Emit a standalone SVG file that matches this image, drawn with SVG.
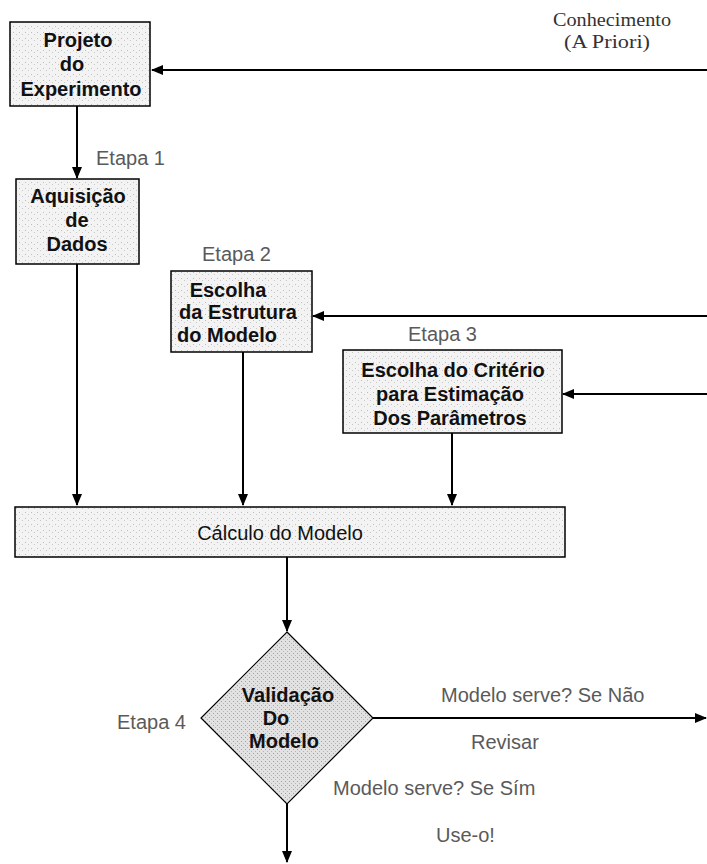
<svg xmlns="http://www.w3.org/2000/svg" width="707" height="864" viewBox="0 0 707 864">
<defs>
<marker id="ah" markerWidth="12" markerHeight="10" refX="11" refY="5" orient="auto" markerUnits="userSpaceOnUse">
<path d="M0,0 L12,5 L0,10 Z" fill="#000"/>
</marker>
<pattern id="stip" width="6" height="6" patternUnits="userSpaceOnUse">
<rect width="6" height="6" fill="#f3f3f3"/>
<rect x="1" y="2" width="1" height="1" fill="#bdbdbd"/>
<rect x="4" y="4" width="1" height="1" fill="#c8c8c8"/>
</pattern>
<pattern id="stip2" width="4" height="4" patternUnits="userSpaceOnUse">
<rect width="4" height="4" fill="#e2e2e2"/>
<rect x="1" y="1" width="1" height="1" fill="#a0a0a0"/>
<rect x="3" y="3" width="1" height="1" fill="#b4b4b4"/>
</pattern>
</defs>
<style>
.box{fill:url(#stip);stroke:#000;stroke-width:1.5}
.dia{fill:url(#stip2);stroke:#000;stroke-width:1.2}
.bt{font-family:"Liberation Sans",Arial,sans-serif;font-size:20px;font-weight:bold;fill:#111;text-anchor:middle}
.ct{font-family:"Liberation Sans",Arial,sans-serif;font-size:20px;fill:#111;text-anchor:middle}
.lb{font-family:"Liberation Sans",Arial,sans-serif;font-size:20px;fill:#5a5a5a}
.sf{font-family:"Liberation Serif","Times New Roman",serif;font-size:18px;fill:#333;text-anchor:middle}
.cn{stroke:#000;stroke-width:2;fill:none}
</style>

<g id="connectors">
<line class="cn" x1="707" y1="70" x2="152" y2="70" marker-end="url(#ah)"/>
<line class="cn" x1="77" y1="106" x2="77" y2="178" marker-end="url(#ah)"/>
<line class="cn" x1="77" y1="264" x2="77" y2="505" marker-end="url(#ah)"/>
<line class="cn" x1="707" y1="316" x2="313" y2="316" marker-end="url(#ah)"/>
<line class="cn" x1="243" y1="352" x2="243" y2="505" marker-end="url(#ah)"/>
<line class="cn" x1="707" y1="394" x2="563" y2="394" marker-end="url(#ah)"/>
<line class="cn" x1="452" y1="433" x2="452" y2="505" marker-end="url(#ah)"/>
<line class="cn" x1="287" y1="557" x2="287" y2="631" marker-end="url(#ah)"/>
<line class="cn" x1="373" y1="718" x2="706" y2="718" marker-end="url(#ah)"/>
<line class="cn" x1="287" y1="804" x2="287" y2="862" marker-end="url(#ah)"/>
</g>

<g id="conhecimento">
<text class="sf" x="612" y="26" textLength="118" lengthAdjust="spacingAndGlyphs">Conhecimento</text>
<text class="sf" x="607" y="48" textLength="86" lengthAdjust="spacingAndGlyphs">(A Priori)</text>
</g>

<g id="projeto">
<rect class="box" x="10" y="22" width="140" height="84"/>
<text class="bt" x="78" y="47">Projeto</text>
<text class="bt" x="72" y="71">do</text>
<text class="bt" x="81" y="96">Experimento</text>
</g>

<g id="etapa1"><text class="lb" x="96" y="165">Etapa 1</text></g>

<g id="aquisicao">
<rect class="box" x="16" y="179" width="123" height="85"/>
<text class="bt" x="78" y="203">Aquisição</text>
<text class="bt" x="77" y="227">de</text>
<text class="bt" x="77" y="251">Dados</text>
</g>

<g id="etapa2"><text class="lb" x="202" y="261">Etapa 2</text></g>

<g id="estrutura">
<rect class="box" x="171" y="271" width="141" height="81"/>
<text class="bt" x="228" y="297">Escolha</text>
<text class="bt" x="238" y="319">da Estrutura</text>
<text class="bt" x="227" y="342">do Modelo</text>
</g>

<g id="etapa3"><text class="lb" x="408" y="341">Etapa 3</text></g>

<g id="criterio">
<rect class="box" x="343" y="350" width="219" height="83"/>
<text class="bt" x="453" y="377">Escolha do Critério</text>
<text class="bt" x="450" y="401">para Estimação</text>
<text class="bt" x="450" y="425">Dos Parâmetros</text>
</g>

<g id="calculo">
<rect class="box" x="15" y="507" width="550" height="50"/>
<text class="ct" x="280" y="540">Cálculo do Modelo</text>
</g>

<g id="validacao">
<polygon class="dia" points="287,632 373,718 287,804 201,718"/>
<text class="bt" x="288" y="702">Validação</text>
<text class="bt" x="276" y="725">Do</text>
<text class="bt" x="284" y="748">Modelo</text>
</g>

<g id="labels">
<text class="lb" x="117" y="729">Etapa 4</text>
<text class="lb" x="441" y="702">Modelo serve? Se Não</text>
<text class="lb" x="471" y="749">Revisar</text>
<text class="lb" x="333" y="795">Modelo serve? Se Sím</text>
<text class="lb" x="436" y="842">Use-o!</text>
</g>
</svg>
